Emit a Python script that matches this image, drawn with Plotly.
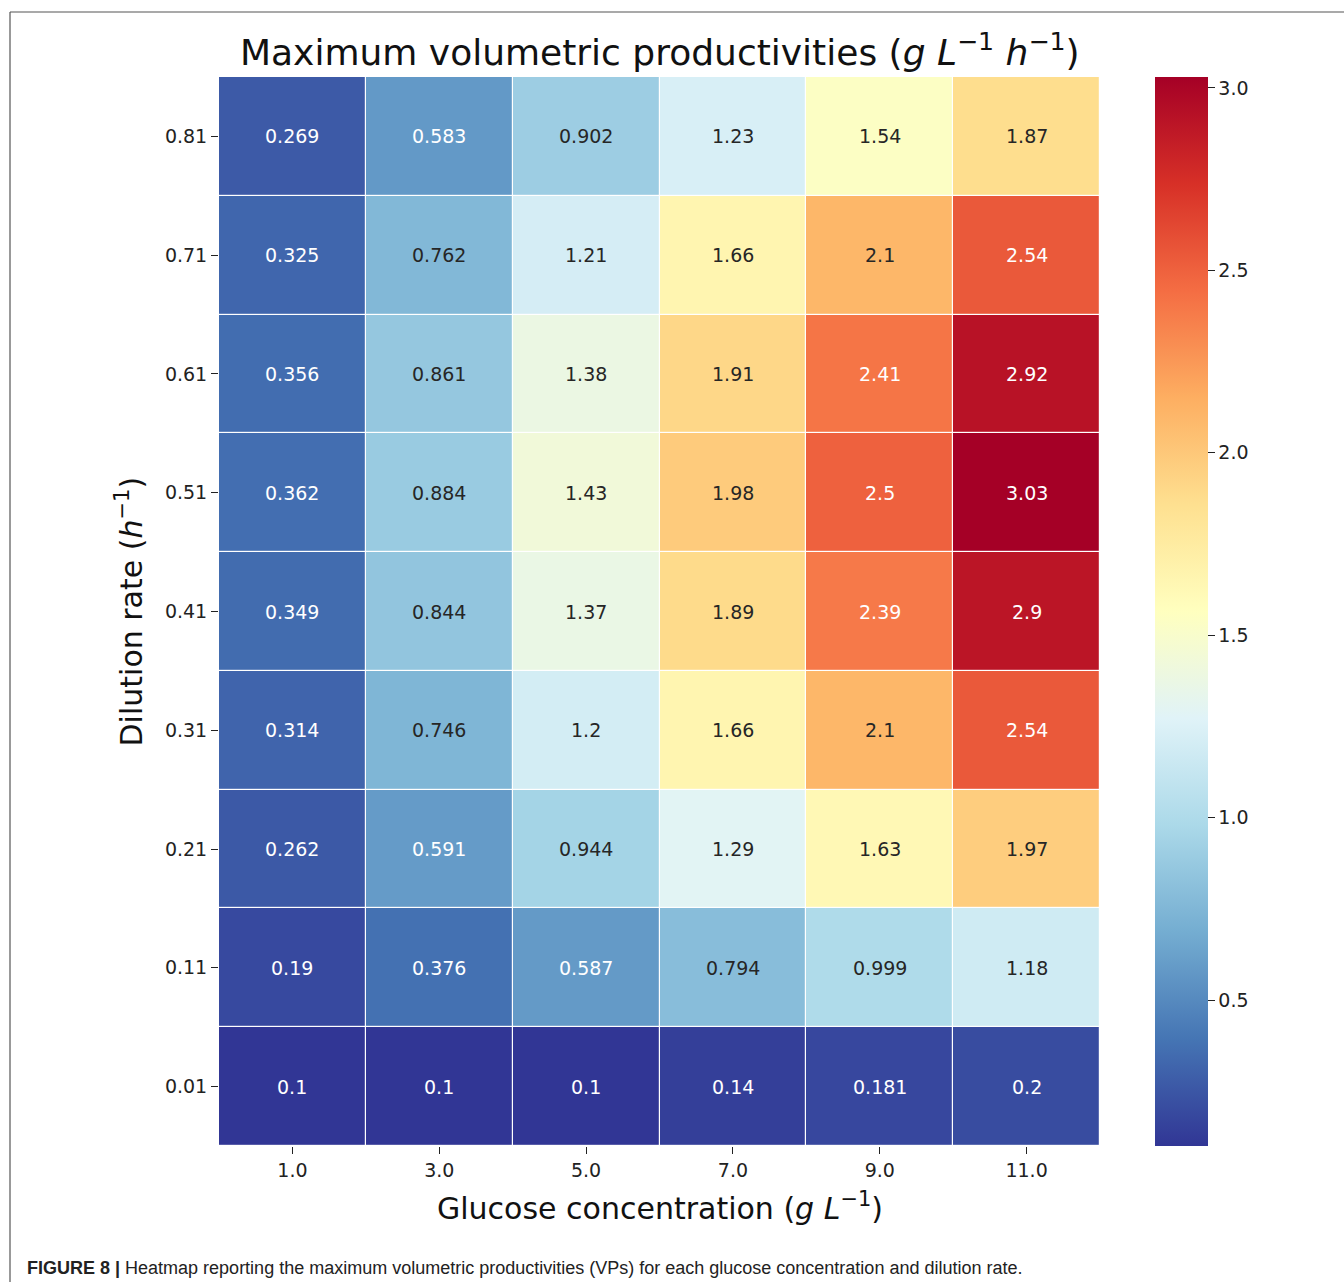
import plotly.graph_objects as go
from plotly.colors import sample_colorscale

# ---- data ----
glucose = ["1.0", "3.0", "5.0", "7.0", "9.0", "11.0"]
dilution = ["0.01", "0.11", "0.21", "0.31", "0.41", "0.51", "0.61", "0.71", "0.81"]  # bottom -> top

vp_001 = [0.1, 0.1, 0.1, 0.14, 0.181, 0.2]
vp_011 = [0.19, 0.376, 0.587, 0.794, 0.999, 1.18]
vp_021 = [0.262, 0.591, 0.944, 1.29, 1.63, 1.97]
vp_031 = [0.314, 0.746, 1.2, 1.66, 2.1, 2.54]
vp_041 = [0.349, 0.844, 1.37, 1.89, 2.39, 2.9]
vp_051 = [0.362, 0.884, 1.43, 1.98, 2.5, 3.03]
vp_061 = [0.356, 0.861, 1.38, 1.91, 2.41, 2.92]
vp_071 = [0.325, 0.762, 1.21, 1.66, 2.1, 2.54]
vp_081 = [0.269, 0.583, 0.902, 1.23, 1.54, 1.87]

z = [vp_001, vp_011, vp_021, vp_031, vp_041, vp_051, vp_061, vp_071, vp_081]

cbar_ticks = [0.5, 1.0, 1.5, 2.0, 2.5, 3.0]

# ---- styling ----
W, H = 1344, 1282
FONT = "DejaVu Sans"

rdylbu = ['rgb(165,0,38)', 'rgb(215,48,39)', 'rgb(244,109,67)', 'rgb(253,174,97)',
          'rgb(254,224,144)', 'rgb(255,255,191)', 'rgb(224,243,248)', 'rgb(171,217,233)',
          'rgb(116,173,209)', 'rgb(69,117,180)', 'rgb(49,54,149)']
cols = rdylbu[::-1]
n = len(cols)
colorscale = [[i / (n - 1), c] for i, c in enumerate(cols)]

zmin = min(min(r) for r in z)
zmax = max(max(r) for r in z)


def px_x(p):
    return p / W


def px_y(p):
    return 1 - p / H


x0, x1 = 219, 1100
y0, y1 = 77, 1146

fig = go.Figure()
fig.add_trace(go.Heatmap(
    z=z, x=glucose, y=dilution,
    colorscale=colorscale, zmin=zmin, zmax=zmax,
    xgap=1.2, ygap=1.2,
    hoverinfo="skip",
    colorbar=dict(
        thickness=53, thicknessmode="pixels",
        len=(y1 - y0) / H, lenmode="fraction",
        x=px_x(1155), xanchor="left",
        y=(px_y(y0) + px_y(y1)) / 2, yanchor="middle",
        outlinewidth=0,
        tickvals=cbar_ticks, ticktext=[f"{v:.1f}" for v in cbar_ticks],
        ticks="outside", ticklen=7, tickwidth=1.2, tickcolor="#222",
        tickfont=dict(family=FONT, size=19, color="#222"),
        xpad=0, ypad=0,
    ),
))


def lum(rgb_str):
    vals = [float(v) / 255 for v in rgb_str[rgb_str.index("(") + 1:-1].split(",")]
    vals = [v / 12.92 if v <= 0.03928 else ((v + 0.055) / 1.055) ** 2.4 for v in vals]
    return 0.2126 * vals[0] + 0.7152 * vals[1] + 0.0722 * vals[2]


annotations = []
for j, row in enumerate(z):
    for i, v in enumerate(row):
        c = sample_colorscale(colorscale, [(v - zmin) / (zmax - zmin)])[0]
        tc = "#262626" if lum(c) > 0.408 else "#ffffff"
        annotations.append(dict(
            x=i, y=j, xref="x", yref="y",
            text=f"{v:.3g}", showarrow=False,
            font=dict(family=FONT, size=19, color=tc),
        ))

annotations += [
    dict(x=(px_x(x0) + px_x(x1)) / 2, y=px_y(50), xref="paper", yref="paper",
         text="Maximum volumetric productivities (<i>g L</i><sup>−1</sup> <i>h</i><sup>−1</sup>)",
         showarrow=False, xanchor="center", yanchor="middle",
         font=dict(family=FONT, size=36, color="#111")),
    dict(x=(px_x(x0) + px_x(x1)) / 2, y=px_y(1206), xref="paper", yref="paper",
         text="Glucose concentration (<i>g L</i><sup>−1</sup>)",
         showarrow=False, xanchor="center", yanchor="middle",
         font=dict(family=FONT, size=30, color="#111")),
    dict(x=px_x(130), y=(px_y(y0) + px_y(y1)) / 2, xref="paper", yref="paper",
         text="Dilution rate (<i>h</i><sup>−1</sup>)", textangle=-90,
         showarrow=False, xanchor="center", yanchor="middle",
         font=dict(family=FONT, size=30, color="#111")),
    dict(x=px_x(25), y=px_y(1268), xref="paper", yref="paper",
         text="<b>FIGURE 8 |</b> Heatmap reporting the maximum volumetric productivities (VPs) for each glucose concentration and dilution rate.",
         showarrow=False, xanchor="left", yanchor="middle",
         font=dict(family="Liberation Sans Narrow, Liberation Sans", size=18, color="#222")),
]

shapes = [
    dict(type="line", xref="paper", yref="paper", x0=px_x(10), x1=1, y0=px_y(12), y1=px_y(12),
         line=dict(color="#555", width=1.2)),
    dict(type="line", xref="paper", yref="paper", x0=px_x(10), x1=px_x(10), y0=px_y(12), y1=0,
         line=dict(color="#555", width=1.2)),
]

fig.update_layout(
    width=W, height=H,
    margin=dict(l=0, r=0, t=0, b=0),
    paper_bgcolor="white", plot_bgcolor="white",
    xaxis=dict(domain=[px_x(x0), px_x(x1)], type="category",
               ticks="outside", ticklen=7, tickwidth=1.2, tickcolor="#222",
               tickfont=dict(family=FONT, size=19, color="#222"),
               showgrid=False, zeroline=False, showline=False),
    yaxis=dict(domain=[px_y(y1), px_y(y0)], type="category",
               ticks="outside", ticklen=7, tickwidth=1.2, tickcolor="#222",
               tickfont=dict(family=FONT, size=19, color="#222"),
               showgrid=False, zeroline=False, showline=False),
    annotations=annotations,
    shapes=shapes,
    showlegend=False,
)

fig.write_html("out.html")
